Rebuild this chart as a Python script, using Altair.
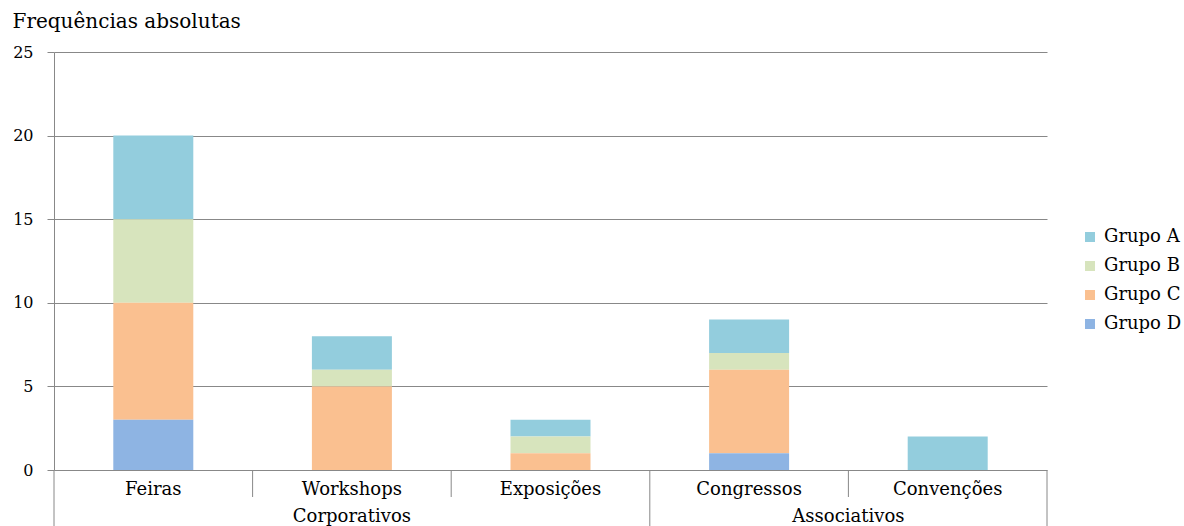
import altair as alt
import pandas as pd

categories = ["Feiras", "Workshops", "Exposições", "Congressos", "Convenções"]
group_names = ["Corporativos", "Associativos"]
group_sizes = [3, 2]
series = ["Grupo A", "Grupo B", "Grupo C", "Grupo D"]
grupo_a = [5, 2, 1, 2, 2]
grupo_b = [5, 1, 1, 1, 0]
grupo_c = [7, 5, 1, 5, 0]
grupo_d = [3, 0, 0, 1, 0]
colors = ["#93CDDD", "#D7E4BD", "#FAC090", "#8EB4E3"]
y_ticks = [0, 5, 10, 15, 20, 25]

W, H = 993, 418
FONT = "DejaVu Serif"

values = [grupo_a, grupo_b, grupo_c, grupo_d]
rows = []
for s_i, (name, vals) in enumerate(zip(series, values)):
    for c_i, cat in enumerate(categories):
        rows.append({"cat": cat, "pos": c_i + 0.5, "serie": name,
                     "valor": vals[c_i], "ordem": len(series) - s_i})
df = pd.DataFrame(rows)

cat_df = pd.DataFrame({"cat": categories, "pos": [i + 0.5 for i in range(len(categories))]})

bounds_long = [0]
for g in group_sizes:
    bounds_long.append(bounds_long[-1] + g)
group_mid = [(bounds_long[i] + bounds_long[i + 1]) / 2 for i in range(len(group_sizes))]
grp_df = pd.DataFrame({"grp": group_names, "pos": group_mid})
short_b = [b for b in range(1, len(categories)) if b not in bounds_long]
long_df = pd.DataFrame({"pos": bounds_long})
short_df = pd.DataFrame({"pos": short_b})

xscale = alt.Scale(domain=[0, len(categories)], nice=False, zero=False, padding=0)

bars = alt.Chart(df).mark_bar(size=80).encode(
    x=alt.X("pos:Q", scale=xscale, axis=None),
    y=alt.Y("valor:Q", stack="zero",
            scale=alt.Scale(domain=[0, 25], nice=False),
            axis=alt.Axis(values=y_ticks, grid=True, gridColor="#888888",
                          domainColor="#888888", tickColor="#888888", tickSize=7,
                          labelFont=FONT, labelFontSize=16, labelColor="black",
                          labelPadding=14,
                          title="Frequências absolutas", titleAngle=0,
                          titleAlign="left", titleBaseline="alphabetic",
                          titleX=-42, titleY=-25, titleFont=FONT,
                          titleFontSize=20, titleFontWeight="normal",
                          titleColor="black")),
    color=alt.Color("serie:N", scale=alt.Scale(domain=series, range=colors),
                    legend=alt.Legend(orient="none", legendX=1027, legendY=176,
                                      title=None, symbolType="square",
                                      symbolSize=100, symbolStrokeWidth=0,
                                      labelFont=FONT, labelFontSize=18,
                                      labelColor="black", labelOffset=5,
                                      rowPadding=11, padding=0)),
    order=alt.Order("ordem:Q", sort="ascending"),
)

short_rules = alt.Chart(short_df).mark_rule(color="#888888", strokeWidth=1).encode(
    x=alt.X("pos:Q", scale=xscale), y=alt.value(H), y2=alt.value(H + 27))
long_rules = alt.Chart(long_df).mark_rule(color="#888888", strokeWidth=1).encode(
    x=alt.X("pos:Q", scale=xscale), y=alt.value(H), y2=alt.value(H + 60))

cat_text = alt.Chart(cat_df).mark_text(font=FONT, fontSize=18, baseline="alphabetic",
                                       color="black").encode(
    x=alt.X("pos:Q", scale=xscale), y=alt.value(443), text="cat:N")
grp_text = alt.Chart(grp_df).mark_text(font=FONT, fontSize=18, baseline="alphabetic",
                                       color="black").encode(
    x=alt.X("pos:Q", scale=xscale), y=alt.value(470), text="grp:N")

chart = alt.layer(bars, short_rules, long_rules, cat_text, grp_text).properties(
    width=W, height=H,
    autosize=alt.AutoSizeParams(type="none"),
    padding={"left": 54, "top": 52, "right": 137, "bottom": 56},
).configure_view(stroke=None)

chart.save("out.html", embed_options={"renderer": "svg", "actions": False})
